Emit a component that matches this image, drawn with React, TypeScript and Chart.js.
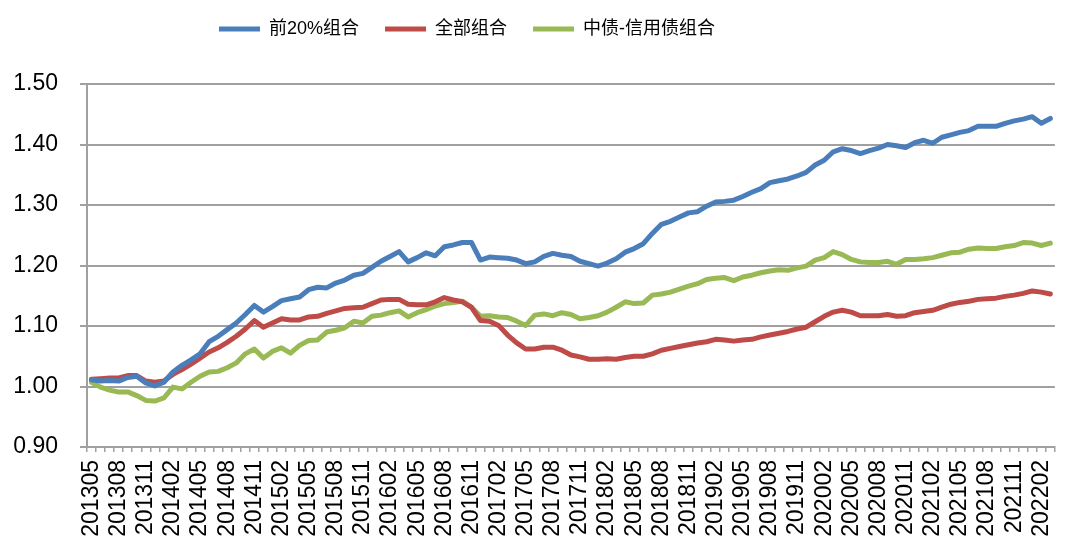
import React, { useEffect, useRef } from 'react';
import { Chart, registerables } from 'chart.js';

Chart.register(...registerables);

// Categories: monthly, 201305 - 202203
const months: string[] = [
  '201305', '201306', '201307', '201308', '201309', '201310', '201311', '201312',
  '201401', '201402', '201403', '201404', '201405', '201406', '201407', '201408', '201409', '201410', '201411', '201412',
  '201501', '201502', '201503', '201504', '201505', '201506', '201507', '201508', '201509', '201510', '201511', '201512',
  '201601', '201602', '201603', '201604', '201605', '201606', '201607', '201608', '201609', '201610', '201611', '201612',
  '201701', '201702', '201703', '201704', '201705', '201706', '201707', '201708', '201709', '201710', '201711', '201712',
  '201801', '201802', '201803', '201804', '201805', '201806', '201807', '201808', '201809', '201810', '201811', '201812',
  '201901', '201902', '201903', '201904', '201905', '201906', '201907', '201908', '201909', '201910', '201911', '201912',
  '202001', '202002', '202003', '202004', '202005', '202006', '202007', '202008', '202009', '202010', '202011', '202012',
  '202101', '202102', '202103', '202104', '202105', '202106', '202107', '202108', '202109', '202110', '202111', '202112',
  '202201', '202202', '202203',
];

const seriesNames = ['前20%组合', '全部组合', '中债-信用债组合'];

const top20: number[] = [
  1.011, 1.009, 1.010, 1.009, 1.015, 1.017, 1.006, 1.001, 1.007, 1.024, 1.035, 1.044, 1.054, 1.074, 1.083, 1.094,
  1.105, 1.119, 1.134, 1.123, 1.132, 1.142, 1.145, 1.148, 1.160, 1.164, 1.163,
  1.171, 1.176, 1.184, 1.187, 1.197, 1.207, 1.215, 1.223, 1.206, 1.213, 1.221, 1.216, 1.231, 1.234, 1.238, 1.238,
  1.209, 1.214, 1.213, 1.212, 1.209, 1.203, 1.206, 1.215, 1.220, 1.217, 1.215,
  1.207, 1.203, 1.199, 1.204, 1.211, 1.222, 1.228, 1.236, 1.253, 1.268, 1.273, 1.280, 1.287, 1.289, 1.298, 1.305,
  1.306, 1.308, 1.314, 1.321, 1.327, 1.337, 1.340, 1.343, 1.348, 1.354, 1.366,
  1.374, 1.388, 1.393, 1.390, 1.385, 1.390, 1.394, 1.400, 1.398, 1.395, 1.403, 1.407, 1.402, 1.412, 1.416, 1.420,
  1.423, 1.430, 1.430, 1.430, 1.435, 1.439, 1.442, 1.446, 1.435, 1.443,
];

const allPortfolio: number[] = [
  1.012, 1.013, 1.014, 1.014, 1.018, 1.018, 1.009, 1.007, 1.009, 1.020, 1.028, 1.037, 1.047, 1.057, 1.064, 1.073,
  1.083, 1.095, 1.109, 1.098, 1.105, 1.112, 1.110, 1.110, 1.115, 1.116, 1.121,
  1.125, 1.129, 1.130, 1.131, 1.137, 1.143, 1.144, 1.144, 1.136, 1.135, 1.135, 1.140, 1.147, 1.143, 1.140, 1.131,
  1.109, 1.108, 1.101, 1.085, 1.072, 1.062, 1.062, 1.065, 1.065, 1.060, 1.052,
  1.049, 1.045, 1.045, 1.046, 1.045, 1.048, 1.050, 1.050, 1.054, 1.060, 1.063, 1.066, 1.069, 1.072, 1.074, 1.078,
  1.077, 1.075, 1.077, 1.078, 1.082, 1.085, 1.088, 1.091, 1.095, 1.098, 1.107,
  1.116, 1.123, 1.126, 1.123, 1.117, 1.117, 1.117, 1.119, 1.116, 1.117, 1.122, 1.124, 1.126, 1.131, 1.136, 1.139,
  1.141, 1.144, 1.145, 1.146, 1.149, 1.151, 1.154, 1.158, 1.156, 1.153,
];

const creditBond: number[] = [
  1.007, 0.999, 0.994, 0.991, 0.991, 0.985, 0.977, 0.976, 0.981, 0.999, 0.996, 1.007, 1.017, 1.024, 1.025, 1.031,
  1.039, 1.054, 1.062, 1.047, 1.058, 1.064, 1.055, 1.068, 1.076, 1.077, 1.090,
  1.093, 1.097, 1.108, 1.105, 1.116, 1.118, 1.122, 1.125, 1.115, 1.122, 1.127, 1.133, 1.137, 1.139, 1.141, 1.131,
  1.116, 1.117, 1.115, 1.114, 1.108, 1.101, 1.118, 1.120, 1.117, 1.122, 1.119,
  1.112, 1.114, 1.117, 1.123, 1.131, 1.140, 1.137, 1.138, 1.151, 1.153, 1.156, 1.161, 1.166, 1.170, 1.177, 1.179,
  1.180, 1.175, 1.181, 1.184, 1.188, 1.191, 1.193, 1.192, 1.196, 1.199, 1.209,
  1.213, 1.223, 1.218, 1.210, 1.206, 1.205, 1.205, 1.207, 1.202, 1.210, 1.210, 1.211, 1.213, 1.217, 1.221, 1.222,
  1.227, 1.229, 1.228, 1.228, 1.231, 1.233, 1.238, 1.237, 1.233, 1.237,
];

const seriesColors = ['#4A7EBB', '#BE4B48', '#98B954'];
const yMin = 0.9;
const yMax = 1.5;
const yStep = 0.1;
const labelEvery = 3;

const FONT = '"Liberation Sans", Arial, "Noto Sans CJK SC", sans-serif';
const GRID = '#a0a0a0';

const LEGEND_X = 219; // left of first legend line
const LEGEND_Y = 29; // vertical centre of legend row
const LEGEND_PAD = 26;
const LEGEND_FONT = 18;

const legendPositioner = {
  id: 'legendPositioner',
  beforeDraw(chart: any) {
    const lg = chart.legend;
    if (!lg) return;
    const w = lg.right - lg.left;
    const h = lg.bottom - lg.top;
    lg.left = LEGEND_X - LEGEND_PAD;
    lg.right = lg.left + w;
    lg.top = LEGEND_Y - LEGEND_PAD - LEGEND_FONT / 2;
    lg.bottom = lg.top + h;
  },
};

export default function App() {
  const canvasRef = useRef<HTMLCanvasElement | null>(null);

  useEffect(() => {
    if (!canvasRef.current) return;
    const values = [top20, allPortfolio, creditBond];
    const chart = new Chart(canvasRef.current, {
      type: 'line',
      data: {
        labels: months,
        datasets: seriesNames.map((name, i) => ({
          label: name,
          data: values[i],
          borderColor: seriesColors[i],
          backgroundColor: seriesColors[i],
          borderWidth: 5,
          pointRadius: 0,
          pointHoverRadius: 0,
          tension: 0,
          fill: false,
          borderCapStyle: 'round' as const,
          borderJoinStyle: 'round' as const,
        })),
      },
      options: {
        animation: false,
        responsive: true,
        maintainAspectRatio: false,
        layout: { padding: { top: 30, right: 13, bottom: 0, left: 0 } },
        plugins: {
          tooltip: { enabled: false },
          legend: {
            display: true,
            position: 'top',
            align: 'start',
            labels: {
              usePointStyle: true,
              pointStyle: 'line',
              pointStyleWidth: 41,
              padding: LEGEND_PAD,
              color: '#000',
              font: { family: FONT, size: LEGEND_FONT },
            },
          },
        },
        scales: {
          x: {
            type: 'category',
            offset: true,
            afterFit: (scale: any) => {
              scale.height = 105;
            },
            grid: {
              display: true,
              offset: true,
              drawOnChartArea: false,
              drawTicks: true,
              tickLength: 5,
              color: GRID,
              lineWidth: 1.5,
            },
            border: { display: true, color: GRID, width: 2 },
            ticks: {
              autoSkip: false,
              maxRotation: 90,
              minRotation: 90,
              padding: 8,
              color: '#000',
              font: { family: FONT, size: 23 },
              callback: (_v: any, idx: number) => (idx % labelEvery === 0 ? months[idx] : ''),
            },
          },
          y: {
            min: yMin,
            max: yMax,
            afterFit: (scale: any) => {
              scale.width = 87;
            },
            grid: {
              color: GRID,
              lineWidth: 2,
              drawTicks: true,
              tickLength: 7,
            },
            border: { display: true, color: GRID, width: 2 },
            ticks: {
              stepSize: yStep,
              padding: 22,
              color: '#000',
              font: { family: FONT, size: 23 },
              callback: (v: any) => Number(v).toFixed(2),
            },
          },
        },
      },
      plugins: [legendPositioner],
    });
    return () => chart.destroy();
  }, []);

  return (
    <div style={{ position: 'absolute', left: 0, top: 0, width: 1086, height: 552, background: '#fff' }}>
      <canvas ref={canvasRef} />
    </div>
  );
}
